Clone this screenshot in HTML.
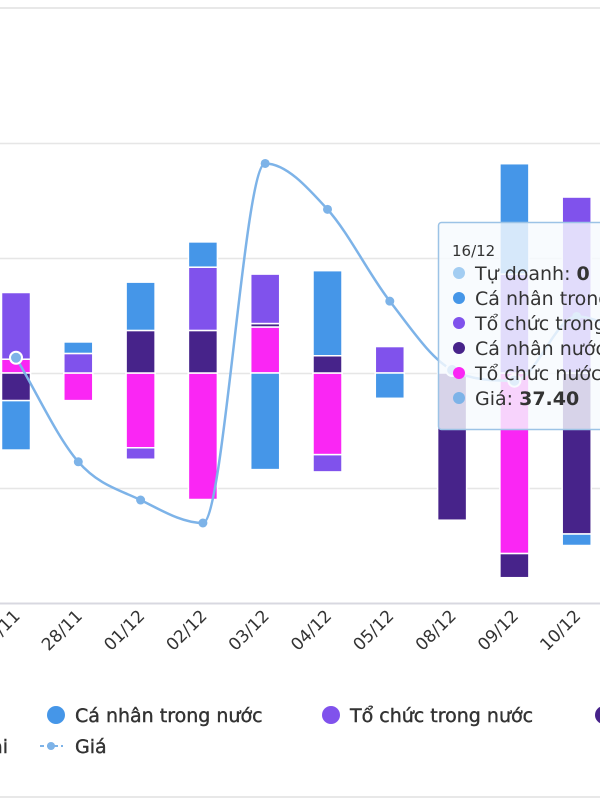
<!DOCTYPE html>
<html><head><meta charset="utf-8"><style>
body{margin:0;background:#fff;width:600px;height:800px;overflow:hidden;font-family:"Liberation Sans","DejaVu Sans",sans-serif}
svg{display:block}
</style></head><body>
<svg id="chart" width="600" height="800">
<rect x="0" y="0" width="600" height="800" fill="#fff"/>
<line x1="0" y1="8" x2="600" y2="8" stroke="#e8e8e8" stroke-width="2"/>
<line x1="0" y1="797" x2="600" y2="797" stroke="#e8e8e8" stroke-width="2"/>
<g id="grid"></g><g id="bars"></g><g id="line"></g><g id="xlabels"></g>
<g id="tooltip">
<rect x="438.5" y="222.5" width="170" height="207" rx="3" fill="rgba(247,250,254,0.82)" stroke="#9cc3e6" stroke-width="1.5"/>
<text x="452" y="256" font-size="15" fill="#333" font-family="DejaVu Sans, sans-serif">16/12</text>
<g font-size="19" fill="#333" font-family="DejaVu Sans, sans-serif">
<circle cx="459" cy="273" r="6" fill="#a3cdf2"/><text x="475" y="280">Tự doanh: <tspan font-weight="bold">0</tspan></text>
<circle cx="459" cy="298" r="6" fill="#4596e8"/><text x="475" y="305">Cá nhân trong nước</text>
<circle cx="459" cy="323" r="6" fill="#8052ec"/><text x="475" y="330">Tổ chức trong nước</text>
<circle cx="459" cy="348" r="6" fill="#47238a"/><text x="475" y="355">Cá nhân nước ngoài</text>
<circle cx="459" cy="373" r="6" fill="#fa26f4"/><text x="475" y="380">Tổ chức nước ngoài</text>
<circle cx="459" cy="398" r="6" fill="#7db3e8"/><text x="475" y="405">Giá: <tspan font-weight="bold">37.40</tspan></text>
</g></g>
<g id="legend" font-size="19" fill="#333" font-family="DejaVu Sans, sans-serif">
<g><circle cx="56" cy="715" r="9" fill="#4596e8"/><text x="75" y="722" fill="#333" stroke="#333" stroke-width="0.4">Cá nhân trong nước</text></g>
<g><circle cx="331" cy="715" r="9" fill="#8052ec"/><text x="350" y="722" fill="#333" stroke="#333" stroke-width="0.4">Tổ chức trong nước</text></g>
<g><circle cx="604" cy="715" r="9" fill="#47238a"/></g>
<g><text x="8" y="753" text-anchor="end" fill="#333" stroke="#333" stroke-width="0.4">Tổ chức nước ngoài</text></g>
<g><line x1="40" y1="746" x2="63" y2="746" stroke="#7db3e8" stroke-width="2" stroke-dasharray="4,3"/><circle cx="51" cy="746" r="4" fill="#7db3e8"/><text x="75" y="753" fill="#333" stroke="#333" stroke-width="0.4">Giá</text></g>
</g>
</svg>
<script>
const categories=["27/11","28/11","01/12","02/12","03/12","04/12","05/12","08/12","09/12","10/12","11/12"];
const caNhanTN=[-4.3,1.0,4.2,2.2,-8.4,7.4,-2.2,0,9.6,-1.0,0];
const toChucTN=[5.8,1.7,-1.0,5.5,4.3,-1.5,2.3,0,8.6,15.3,0];
const caNhanNN=[-2.4,0,3.7,3.7,0.3,1.5,0,-12.8,-2.1,-14.0,0];
const toChucNN=[1.2,-2.4,-6.5,-11.0,4.0,-7.1,0,0,-15.7,0,0];
const gia=[37.48,36.80,36.55,36.40,38.75,38.45,37.85,37.40,37.33,37.75,37.6];
const yTicks=[20,10,0,-10,-20];
const NS="http://www.w3.org/2000/svg";
const zeroY=373,pxPer=11.5,x0=16,step=62.3,bw=29;
function xPos(i){return x0+step*i;}
function yVal(v){return zeroY-v*pxPer;}
function yPrice(p){return 370-(p-37.4)*153;}
function mk(tag,attrs,parent){const e=document.createElementNS(NS,tag);for(const k in attrs)e.setAttribute(k,attrs[k]);parent.appendChild(e);return e;}
const grid=document.getElementById('grid');
yTicks.forEach((t,i)=>{const y=Math.round(yVal(t))+0.5;
const l=mk('line',{x1:0,x2:600,y1:y,y2:y,stroke:(i===yTicks.length-1)?'#d8d8e0':'#e6e6e6','stroke-width':(i===yTicks.length-1)?2:1.5},grid);

});
const series=[{d:toChucNN,c:'#fa26f4',n:'to-chuc-nuoc-ngoai'},{d:caNhanNN,c:'#47238a',n:'ca-nhan-nuoc-ngoai'},{d:toChucTN,c:'#8052ec',n:'to-chuc-trong-nuoc'},{d:caNhanTN,c:'#4596e8',n:'ca-nhan-trong-nuoc'}];
const bars=document.getElementById('bars');
categories.forEach((c,i)=>{let pos=0,neg=0;
series.forEach(s=>{const v=s.d[i];if(!v)return;let a,b;
if(v>0){a=pos;b=pos+v;pos=b;}else{a=neg;b=neg+v;neg=b;}
const y1=yVal(Math.max(a,b)),y2=yVal(Math.min(a,b));
const r=mk('rect',{x:xPos(i)-bw/2,y:y1,width:bw,height:Math.max(0,y2-y1),fill:s.c,stroke:'#fff','stroke-width':1.5},bars);

});
const t=mk('text',{transform:`translate(${xPos(i)+5},617) rotate(-45)`,'text-anchor':'end','font-size':17,fill:'#333','font-family':'DejaVu Sans, sans-serif'},document.getElementById('xlabels'));
t.textContent=c;

});
const pts=gia.map((p,i)=>[xPos(i),yPrice(p)]);
const n=pts.length,dl=[],m=[];
for(let i=0;i<n-1;i++)dl.push((pts[i+1][1]-pts[i][1])/(pts[i+1][0]-pts[i][0]));
for(let i=0;i<n;i++){if(i===0)m.push(dl[0]);else if(i===n-1)m.push(dl[n-2]);else m.push(dl[i-1]*dl[i]<=0?0:(dl[i-1]+dl[i])/2);}
for(let i=0;i<n-1;i++){if(dl[i]===0){m[i]=0;m[i+1]=0;continue;}const a=m[i]/dl[i],b=m[i+1]/dl[i],s=a*a+b*b;if(s>9){const t=3/Math.sqrt(s);m[i]=t*a*dl[i];m[i+1]=t*b*dl[i];}}
let d=`M${pts[0][0]},${pts[0][1]}`;
for(let i=0;i<n-1;i++){const h=(pts[i+1][0]-pts[i][0])/3;
d+=` C${pts[i][0]+h},${pts[i][1]+m[i]*h} ${pts[i+1][0]-h},${pts[i+1][1]-m[i+1]*h} ${pts[i+1][0]},${pts[i+1][1]}`;}
const lg=document.getElementById('line');
const pl=mk('path',{d:d,fill:'none',stroke:'#7db3e8','stroke-width':2.5},lg);


pts.forEach((p,i)=>{const hov=(i===0||i===7||i===8);
const mc=mk('circle',{cx:p[0],cy:p[1],r:hov?6:4.5,fill:'#7db3e8',stroke:hov?'#fff':'none','stroke-width':2},lg);

});
const chart=document.getElementById('chart');chart.appendChild(document.getElementById('tooltip'));
</script>
</body></html>
